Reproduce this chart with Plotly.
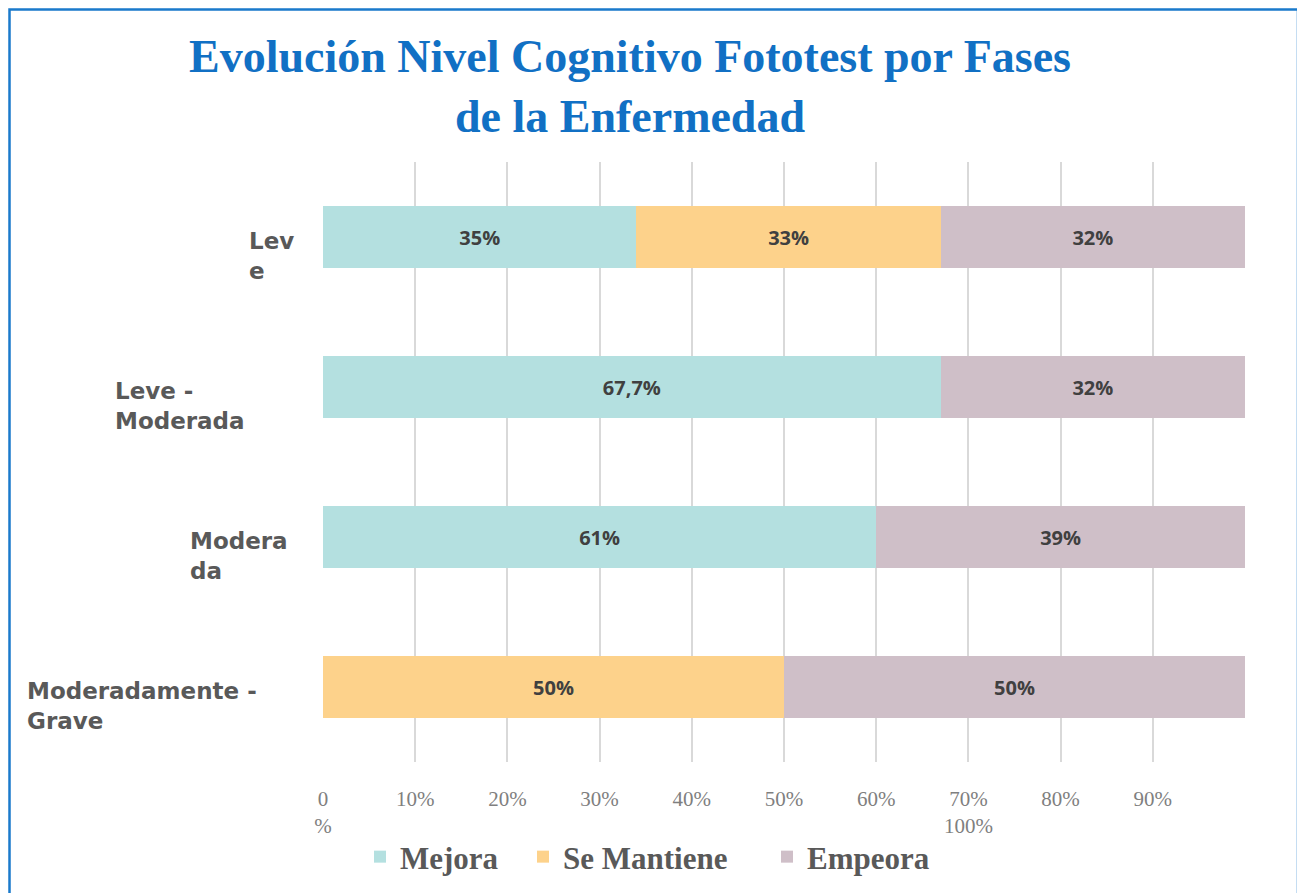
import plotly.graph_objects as go

# ---------------- data ----------------
categories = ["Leve", "Leve - Moderada", "Moderada", "Moderadamente - Grave"]
category_labels = ["Lev<br>e", "Leve -<br>Moderada", "Modera<br>da", "Moderadamente -<br>Grave"]

series_names = ["Mejora", "Se Mantiene", "Empeora"]
mejora = [34, 67, 60, 0]
se_mantiene = [33, 0, 0, 50]
empeora = [33, 33, 40, 50]

mejora_text = ["35%", "67,7%", "61%", ""]
se_mantiene_text = ["33%", "", "", "50%"]
empeora_text = ["32%", "32%", "39%", "50%"]

tick_values = [0, 10, 20, 30, 40, 50, 60, 70, 80, 90, 100]
tick_labels = ["0<br>%", "10%", "20%", "30%", "40%", "50%", "60%", "70%<br>100%", "80%", "90%", ""]

title_text = "Evolución Nivel Cognitivo Fototest por Fases<br>de la Enfermedad"

# ---------------- styling / layout ----------------
colors = ["#B4E0E0", "#FDD28B", "#CFBFC8"]
OFF = 8                       # page body margin of the html page
W, H = 1305 - OFF, 893 - OFF
L = 323 - OFF
T = 162 - OFF
R = W - (1245 - OFF)
B = H - (762 - OFF)
plot_w = W - L - R
plot_h = H - T - B

def px_x(px):  # page pixel -> paper x
    return (px - OFF - L) / plot_w

def px_y(py):  # page pixel -> paper y
    return (H - B - (py - OFF)) / plot_h

label_left_px = [247, 113, 188, 25]
legend_left_px = [360, 523, 767]

fig = go.Figure()
legend_ids = ["legend", "legend2", "legend3"]
for name, vals, txt, col, lg in zip(series_names, [mejora, se_mantiene, empeora],
                                     [mejora_text, se_mantiene_text, empeora_text], colors, legend_ids):
    fig.add_trace(go.Bar(
        name=name, y=categories, x=vals, orientation="h",
        marker=dict(color=col, line=dict(width=0)),
        text=txt, textposition="inside", insidetextanchor="middle",
        textfont=dict(family="Open Sans", size=20, color="#404040", weight="bold"),
        textangle=0, hoverinfo="skip", legend=lg,
    ))

legend_style = dict(orientation="h", yanchor="middle", xanchor="left",
                    font=dict(family="Liberation Serif", size=31, color="#595959", weight="bold"),
                    itemwidth=30, bgcolor="rgba(0,0,0,0)")
legend_layout = {}
for lg, lx in zip(legend_ids, legend_left_px):
    legend_layout[lg] = dict(legend_style, x=px_x(lx), y=px_y(857))

fig.update_layout(
    width=W, height=H,
    margin=dict(l=L, r=R, t=T, b=B, autoexpand=False),
    barmode="stack", bargap=0.59,
    plot_bgcolor="white", paper_bgcolor="white",
    title=dict(text=title_text, x=(630 - OFF) / W, xanchor="center", xref="container",
               y=1 - 64 / H, yanchor="top", yref="container",
               font=dict(family="Liberation Serif", size=46, color="#1170C4", weight="bold")),
    xaxis=dict(range=[0, 100], tickvals=tick_values, ticktext=tick_labels,
               showgrid=True, gridcolor="#D9D9D9", gridwidth=2,
               zeroline=False, showline=False, ticks="",
               tickfont=dict(family="Liberation Serif", size=21, color="#7F7F7F"),
               ticklabelstandoff=22, fixedrange=True),
    yaxis=dict(categoryorder="array", categoryarray=categories, autorange="reversed",
               showticklabels=False, showgrid=False, zeroline=False, ticks=""),
    showlegend=True,
    **legend_layout,
)

for cat, lab, lx in zip(categories, category_labels, label_left_px):
    fig.add_annotation(x=px_x(lx), xref="paper", xanchor="left", y=cat, yref="y",
                       yanchor="middle", yshift=-19, text=lab, showarrow=False, align="left",
                       font=dict(family="DejaVu Sans", size=23, color="#595959", weight="bold"))

fig.add_shape(type="rect", xref="paper", yref="paper",
              x0=px_x(9.5), x1=px_x(1298), y0=px_y(930), y1=px_y(9.5),
              line=dict(color="#1A7ACB", width=2.5), fillcolor="rgba(0,0,0,0)", layer="above")

fig.write_html("out.html")
